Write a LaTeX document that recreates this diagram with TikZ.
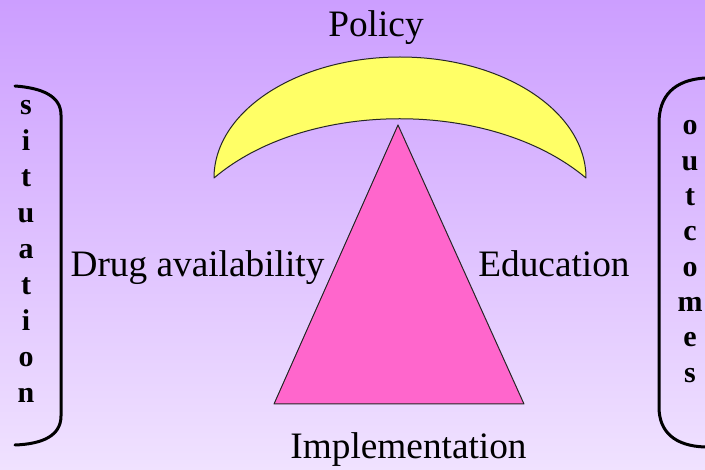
\documentclass[tikz,border=0pt]{standalone}
\usepackage{fontspec}
\setmainfont{Liberation Serif}
\definecolor{bgtop}{RGB}{204,158,255}
\definecolor{bgbot}{RGB}{240,226,255}
\definecolor{cres}{RGB}{255,255,102}
\definecolor{tri}{RGB}{255,102,204}
\tikzset{
  lbl/.style={font=\fontsize{37.3}{40}\selectfont, inner sep=0pt, anchor=base},
  vlet/.style={font=\fontsize{30}{34}\selectfont\bfseries, inner sep=0pt, anchor=base},
  bracket/.style={line width=3pt, line cap=round},
  shapeline/.style={draw=black!85, line width=1pt, line join=round}
}
\begin{document}
\begin{tikzpicture}[x=1pt,y=-1pt]
\useasboundingbox (0,0) rectangle (705,470);
\fill[top color=bgtop, bottom color=bgbot] (0,0) rectangle (705,470);
% crescent
\path[shapeline, fill=cres] (214,178) arc[start angle=180, end angle=360, x radius=186, y radius=121]
  .. controls (492,99) and (307,99) .. (214,178) -- cycle;
% triangle
\coordinate (apex) at (398,125);
\coordinate (bl) at (274,404);
\coordinate (br) at (524,404);
\path[shapeline, fill=tri] (apex) -- (br) -- (bl) -- cycle;
% labels
\node[lbl] (policy) at (376,37) {Policy};
\node[lbl] (drug) at (197.5,277) {Drug availability};
\node[lbl] (edu) at (554,277) {Education};
\node[lbl] (impl) at (408.5,459) {Implementation};
% left bracket
\draw[bracket] (15,86) .. controls (42,88) and (61,96) .. (61,115) -- (61,416)
  .. controls (61,436) and (42,444) .. (15,445);
% right bracket
\draw[bracket] (705,78) .. controls (674,80) and (659,96) .. (659,123) -- (659,407)
  .. controls (659,432) and (675,446) .. (705,447);
% vertical words
\foreach \l [count=\i] in {s,i,t,u,a,t,i,o,n}
  \node[vlet] (sit\i) at (26,{115+36*(\i-1)}) {\l};
\foreach \l [count=\i] in {o,u,t,c,o,m,e,s}
  \node[vlet] (out\i) at (690,{135+35.3*(\i-1)}) {\l};
\end{tikzpicture}
\end{document}
